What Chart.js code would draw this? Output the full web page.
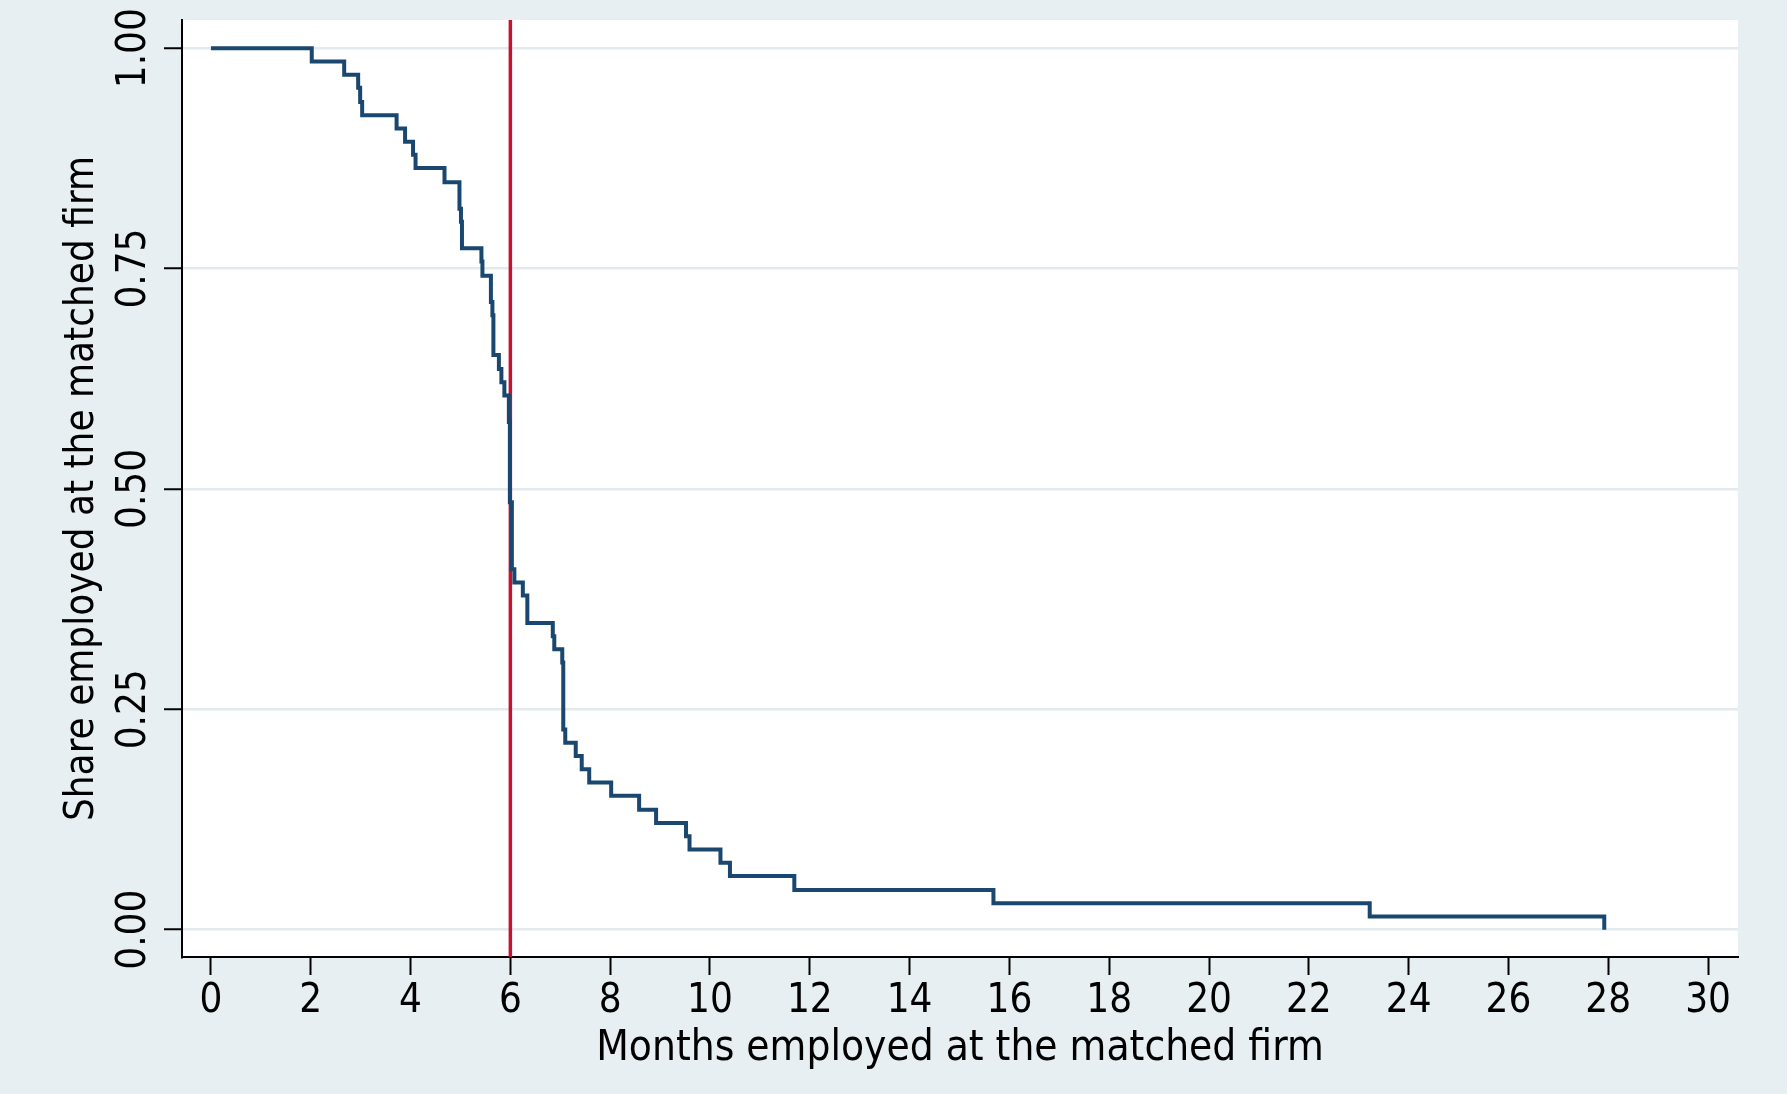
<!DOCTYPE html>
<html><head><meta charset="utf-8">
<script src="https://cdn.jsdelivr.net/npm/chart.js@4"></script>
<style>html,body{margin:0;padding:0;background:#e8eff2;} canvas{display:block;}</style>
</head><body>
<canvas id="c" width="1787" height="1094"></canvas>
<script>
// ---- data (Kaplan-Meier style step curve) ----
const months = [0, 2.02, 2.67, 2.95, 2.99, 3.03, 3.72, 3.89, 4.05, 4.10, 4.68, 4.98, 5.01, 5.03,
  5.42, 5.44, 5.61, 5.64, 5.66, 5.77, 5.82, 5.88, 5.97, 5.99, 6.03, 6.08, 6.25, 6.34, 6.85, 6.88,
  7.04, 7.06, 7.10, 7.31, 7.43, 7.58, 8.02, 8.58, 8.92, 9.52, 9.59, 10.21, 10.40, 11.69, 15.68,
  23.22, 27.92];
const share = [1.000, 0.985, 0.970, 0.955, 0.939, 0.924, 0.909, 0.894, 0.879, 0.864, 0.848, 0.818,
  0.803, 0.773, 0.758, 0.742, 0.712, 0.697, 0.652, 0.636, 0.621, 0.606, 0.576, 0.485, 0.409, 0.394,
  0.379, 0.348, 0.333, 0.318, 0.303, 0.227, 0.212, 0.197, 0.182, 0.167, 0.152, 0.136, 0.121, 0.106,
  0.091, 0.076, 0.061, 0.045, 0.030, 0.015, 0.000];
const cutoffMonth = 6;
const xTickValues = [0, 2, 4, 6, 8, 10, 12, 14, 16, 18, 20, 22, 24, 26, 28, 30];
const yTickValues = [0, 0.25, 0.5, 0.75, 1];
const xTitle = 'Months employed at the matched firm';
const yTitle = 'Share employed at the matched firm';
const xRange = [-0.58, 30.6];
const yRange = [-0.031, 1.032];

const FONT = "'Liberation Sans Narrow', 'DejaVu Sans Condensed', 'Liberation Sans', sans-serif";
const curve = months.map((m, i) => ({x: m, y: share[i]}));
const cutoff = [{x: cutoffMonth, y: yRange[0]}, {x: cutoffMonth, y: yRange[1]}];

const bgPlugin = {
  id: 'bg',
  beforeDraw(chart) {
    const {ctx, chartArea: a} = chart;
    ctx.save();
    ctx.fillStyle = '#e8eff2';
    ctx.fillRect(0, 0, chart.width, chart.height);
    ctx.fillStyle = '#ffffff';
    ctx.fillRect(a.left, a.top, a.right - a.left, a.bottom - a.top);
    ctx.restore();
  }
};

new Chart(document.getElementById('c'), {
  type: 'scatter',
  data: {
    datasets: [
      {data: curve, showLine: true, stepped: true, borderColor: '#1a476f', borderWidth: 4,
       pointRadius: 0, fill: false},
      {data: cutoff, showLine: true, borderColor: '#c4122f', borderWidth: 3.5,
       pointRadius: 0, fill: false}
    ]
  },
  options: {
    responsive: false,
    animation: false,
    devicePixelRatio: 1,
    layout: {padding: {top: 20, right: 49, left: 0, bottom: 0}},
    plugins: {legend: {display: false}, tooltip: {enabled: false}},
    scales: {
      x: {
        type: 'linear', min: xRange[0], max: xRange[1],
        afterBuildTicks: s => { s.ticks = xTickValues.map(v => ({value: v})); },
        afterFit: s => { s.height = 137; },
        ticks: {color: '#000', font: {family: FONT, size: 40}, padding: 3,
                callback: v => String(v), autoSkip: false, maxRotation: 0},
        grid: {drawOnChartArea: false, drawTicks: true, tickLength: 18, tickColor: '#000', tickWidth: 2},
        border: {color: '#000', width: 2},
        title: {display: true, text: xTitle, color: '#000', font: {family: FONT, size: 42},
                padding: {top: 0, bottom: 20}}
      },
      y: {
        type: 'linear', min: yRange[0], max: yRange[1],
        afterBuildTicks: s => { s.ticks = yTickValues.map(v => ({value: v})); },
        afterFit: s => { s.width = 182; },
        ticks: {color: '#000', font: {family: FONT, size: 40}, padding: -11, minRotation: 90, maxRotation: 90,
                crossAlign: 'center', callback: v => Number(v).toFixed(2)},
        grid: {color: '#e3eaee', lineWidth: 2.5, drawTicks: true, tickLength: 18, tickColor: '#000', tickWidth: 2},
        border: {color: '#000', width: 2},
        title: {display: true, text: yTitle, color: '#000', font: {family: FONT, size: 40},
                padding: {top: 59, bottom: 0}}
      }
    }
  },
  plugins: [bgPlugin]
});
</script>
</body></html>
